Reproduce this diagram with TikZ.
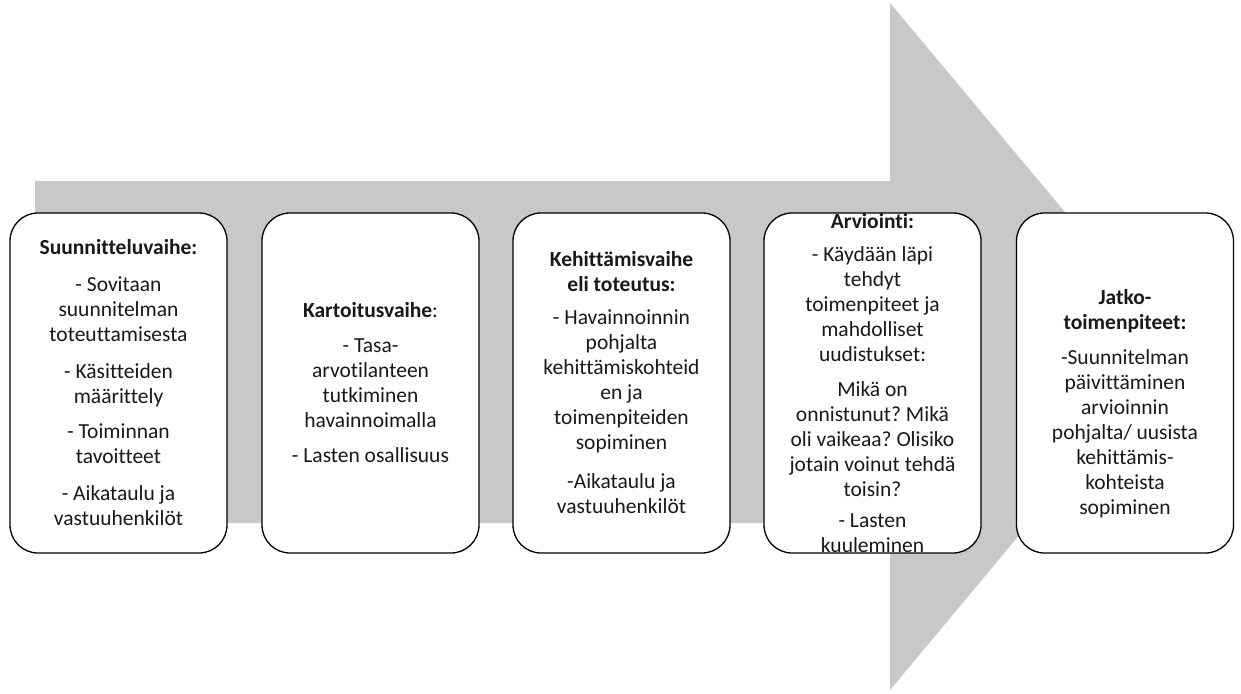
\documentclass[tikz,border=0pt]{standalone}
\usepackage{fontspec}
\setmainfont{Carlito}[Ligatures=NoCommon]
\definecolor{arrowgray}{RGB}{200,200,200}
\frenchspacing
\begin{document}
\begin{tikzpicture}[x=1pt,y=-1pt,
        phase/.style={draw,rectangle,rounded corners=28pt,fill=white,line width=1.3pt,
            minimum width=217pt,minimum height=340pt},
        phasetext/.style={align=center,text=black!90,font=\fontsize{21.5}{25}\selectfont}]
        \useasboundingbox (0,0) rectangle (1241,693);
        % the big arrow behind the boxes
        \fill[arrowgray] (35,181) -- (890,181) -- (890,3) -- (1177,346)
            -- (890,690) -- (890,523) -- (35,523) -- cycle;
        \draw
            (118.5,383) node[phase] (b1){}
            (370.5,383) node[phase] (b2){}
            (621.5,383) node[phase] (b3){}
            (872.5,383) node[phase] (b4){}
            (1125,383) node[phase] (b5){};
        \node[phasetext] (t1) at (b1) {\textbf{Suunnitteluvaihe:}\\[12pt]
            - Sovitaan\\suunnitelman\\toteuttamisesta\\[12pt]
            - Käsitteiden\\määrittely\\[10pt]
            - Toiminnan\\tavoitteet\\[12pt]
            - Aikataulu ja\\vastuuhenkilöt};
        \node[phasetext] (t2) at (b2) {\textbf{Kartoitusvaihe}:\\[10pt]
            - Tasa-\\arvotilanteen\\tutkiminen\\havainnoimalla\\[10pt]
            - Lasten osallisuus};
        \node[phasetext] (t3) at (b3) {\textbf{Kehittämisvaihe}\\\textbf{eli toteutus:}\\[8pt]
            - Havainnoinnin\\pohjalta\\kehittämiskohteid\\en ja\\toimenpiteiden\\sopiminen\\[14pt]
            -Aikataulu ja\\vastuuhenkilöt};
        \node[phasetext] (t4) at (b4) {\textbf{Arviointi:}\\[8pt]
            - Käydään läpi\\tehdyt\\toimenpiteet ja\\mahdolliset\\uudistukset:\\[10pt]
            Mikä on\\onnistunut? Mikä\\oli vaikeaa? Olisiko\\jotain voinut tehdä\\toisin?\\[6pt]
            - Lasten\\kuuleminen};
        \node[phasetext] (t5) at ([yshift=-21pt]b5.center) {\textbf{Jatko-}\\\textbf{toimenpiteet:}\\[10pt]
            -Suunnitelman\\päivittäminen\\arvioinnin\\pohjalta/ uusista\\kehittämis-\\kohteista\\sopiminen};
\end{tikzpicture}
\end{document}
